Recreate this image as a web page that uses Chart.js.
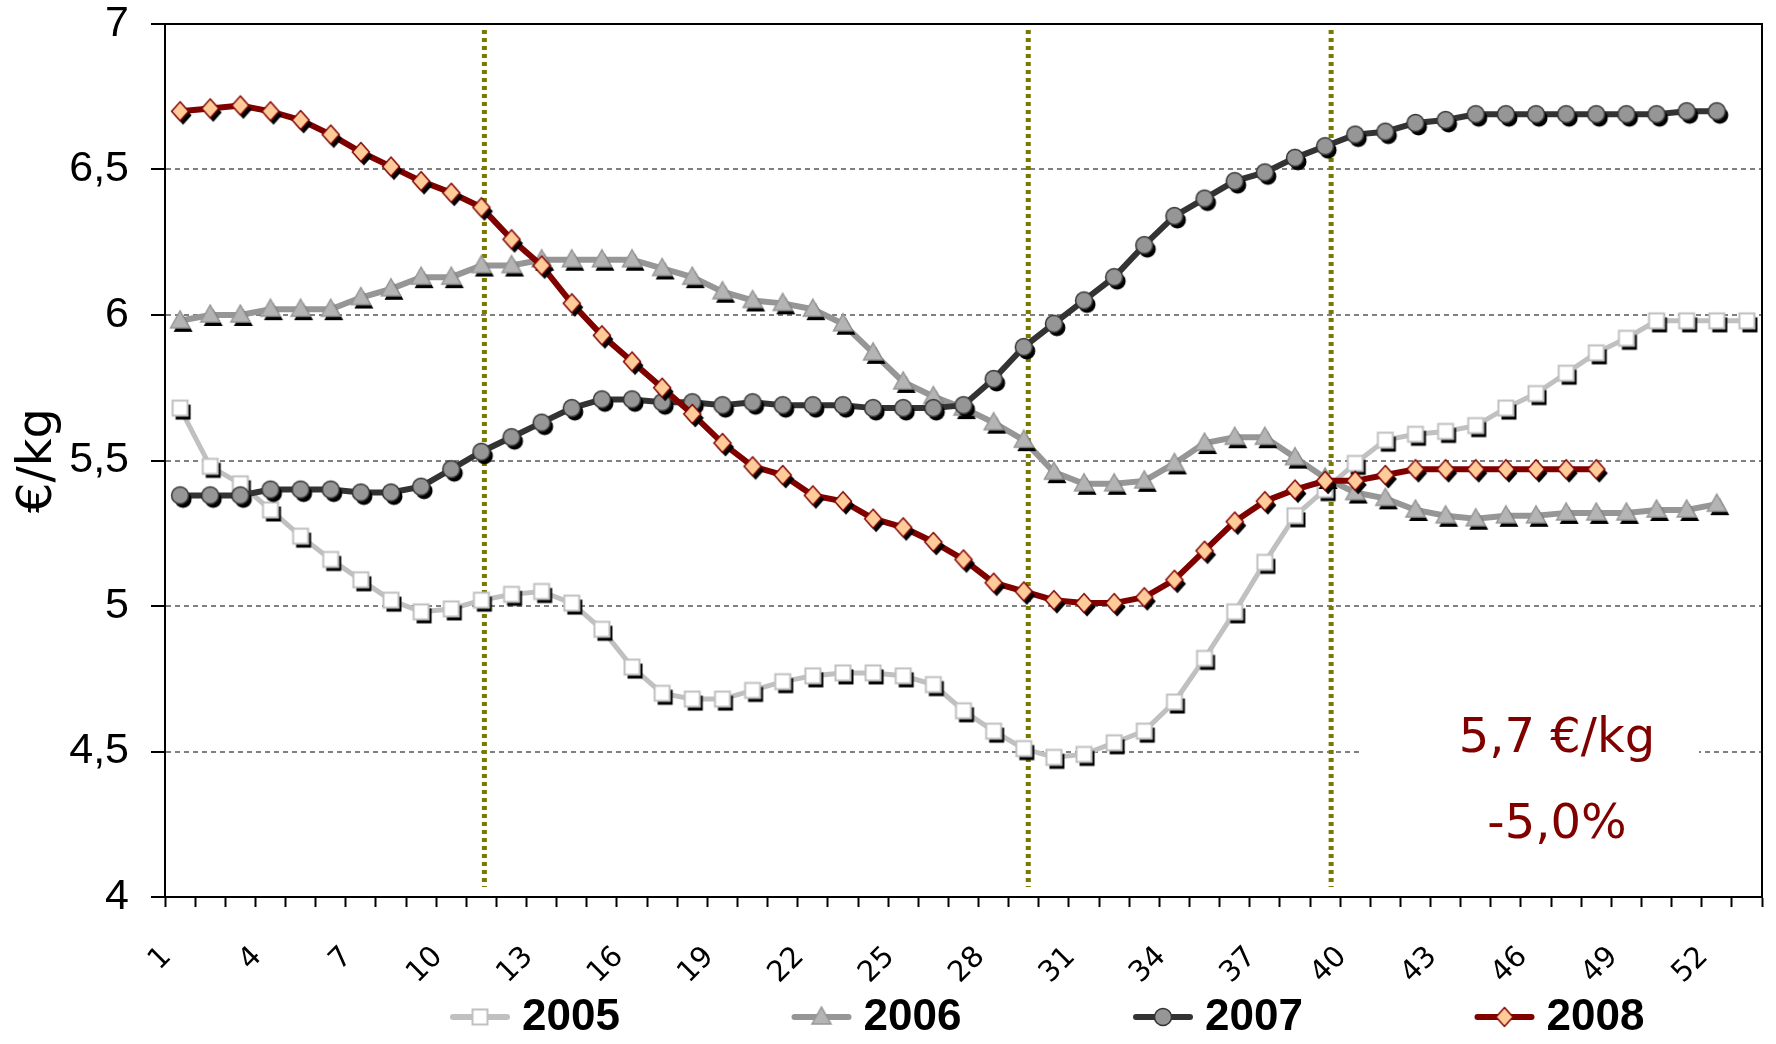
<!DOCTYPE html>
<html>
<head>
<meta charset="utf-8">
<script src="https://cdn.jsdelivr.net/npm/chart.js@4.4.1/dist/chart.umd.min.js"></script>
<style>
  html, body { margin: 0; padding: 0; background: #fff; }
  #wrap { width: 1776px; height: 1044px; position: relative; }
</style>
</head>
<body>
<div id="wrap"><canvas id="chart"></canvas></div>
<script>
// semanas do ano (eixo x)
const weeks = [1, 2, 3, 4, 5, 6, 7, 8, 9, 10, 11, 12, 13, 14, 15, 16, 17, 18, 19, 20,
    21, 22, 23, 24, 25, 26, 27, 28, 29, 30, 31, 32, 33, 34, 35, 36, 37, 38, 39, 40,
    41, 42, 43, 44, 45, 46, 47, 48, 49, 50, 51, 52, 53];
const tickWeeks = [1, 4, 7, 10, 13, 16, 19, 22, 25, 28, 31, 34, 37, 40, 43, 46, 49, 52];

// preços em €/kg
const price2005 = [5.68, 5.48, 5.42, 5.33, 5.24, 5.16, 5.09, 5.02, 4.98, 4.99, 5.02, 5.04, 5.05, 5.01, 4.92,
    4.79, 4.70, 4.68, 4.68, 4.71, 4.74, 4.76, 4.77, 4.77, 4.76, 4.73, 4.64, 4.57, 4.51, 4.48,
    4.49, 4.53, 4.57, 4.67, 4.82, 4.98, 5.15, 5.31, 5.40, 5.49, 5.57, 5.59, 5.60, 5.62, 5.68,
    5.73, 5.80, 5.87, 5.92, 5.98, 5.98, 5.98, 5.98];
const price2006 = [5.98, 6.00, 6.00, 6.02, 6.02, 6.02, 6.06, 6.09, 6.13, 6.13, 6.17, 6.17, 6.19, 6.19,
    6.19, 6.19, 6.16, 6.13, 6.08, 6.05, 6.04, 6.02, 5.97, 5.87, 5.77, 5.72, 5.68, 5.63, 5.57,
    5.46, 5.42, 5.42, 5.43, 5.49, 5.56, 5.58, 5.58, 5.51, 5.44, 5.39, 5.37, 5.33, 5.31, 5.30,
    5.31, 5.31, 5.32, 5.32, 5.32, 5.33, 5.33, 5.35];
const price2007 = [5.38, 5.38, 5.38, 5.40, 5.40, 5.40, 5.39, 5.39, 5.41, 5.47, 5.53, 5.58, 5.63,
    5.68, 5.71, 5.71, 5.70, 5.70, 5.69, 5.70, 5.69, 5.69, 5.69, 5.68, 5.68, 5.68, 5.69,
    5.78, 5.89, 5.97, 6.05, 6.13, 6.24, 6.34,
    6.40, 6.46, 6.49, 6.54, 6.58, 6.62, 6.63, 6.66, 6.67, 6.69, 6.69, 6.69, 6.69, 6.69, 6.69, 6.69, 6.70, 6.70];
const price2008 = [6.70, 6.71, 6.72, 6.70, 6.67, 6.62, 6.56, 6.51, 6.46, 6.42, 6.37, 6.26, 6.17, 6.04,
    5.93, 5.84, 5.75, 5.66, 5.56, 5.48, 5.45, 5.38, 5.36, 5.30, 5.27, 5.22, 5.16, 5.08, 5.05,
    5.02, 5.01, 5.01, 5.03, 5.09, 5.19, 5.29, 5.36, 5.40, 5.43, 5.43, 5.45, 5.47, 5.47, 5.47,
    5.47, 5.47, 5.47, 5.47];

// linhas verticais pontilhadas (semana)
const markerWeeks = [11.1, 29.15, 39.2];
const noteLines = ['5,7 €/kg', '-5,0%'];

const comic = '"Comic Sans MS", "DejaVu Sans", sans-serif';
const arial = '"Liberation Sans", Arial, sans-serif';

// desenha o marcador (com sombra preta) num canvas pequeno
function makeMarker(shape, fill, stroke, shadow) {
    const c = document.createElement('canvas');
    c.width = 34; c.height = 34;
    const ctx = c.getContext('2d');
    function path(x, y) {
        ctx.beginPath();
        if (shape === 'square') {
            ctx.rect(x - 7.5, y - 7.5, 15, 15);
        } else if (shape === 'triangle') {
            ctx.moveTo(x, y - 10);
            ctx.lineTo(x + 9.5, y + 7);
            ctx.lineTo(x - 9.5, y + 7);
            ctx.closePath();
        } else if (shape === 'circle') {
            ctx.arc(x, y, 8.5, 0, Math.PI * 2);
        } else {
            ctx.moveTo(x, y - 9.5);
            ctx.lineTo(x + 8.5, y);
            ctx.lineTo(x, y + 9.5);
            ctx.lineTo(x - 8.5, y);
            ctx.closePath();
        }
    }
    if (shadow) {
        path(20, 21);
        ctx.fillStyle = '#000';
        ctx.fill();
    }
    path(17, 17);
    ctx.fillStyle = fill;
    ctx.fill();
    ctx.lineWidth = shape === 'square' ? 2 : 1.5;
    ctx.strokeStyle = stroke;
    ctx.stroke();
    return c;
}

const styles = [
    { label: '2005', data: price2005, color: '#c0c0c0', width: 5, shape: 'square', fill: '#ffffff', stroke: '#c0c0c0' },
    { label: '2006', data: price2006, color: '#969696', width: 6, shape: 'triangle', fill: '#b4b4b4', stroke: '#969696' },
    { label: '2007', data: price2007, color: '#333333', width: 6, shape: 'circle', fill: '#969696', stroke: '#333333' },
    { label: '2008', data: price2008, color: '#800000', width: 6, shape: 'diamond', fill: '#ffcc99', stroke: '#800000' }
];
const legendMarkers = styles.map(s => makeMarker(s.shape, s.fill, s.stroke, false));

const datasets = styles.map((s, i) => ({
    label: s.label,
    data: s.data,
    borderColor: s.color,
    borderWidth: s.width,
    backgroundColor: s.fill,
    pointStyle: makeMarker(s.shape, s.fill, s.stroke, true),
    pointRadius: 8,
    tension: 0,
    fill: false,
    order: 4 - i
}));

// linhas verticais, moldura e nota
const extrasPlugin = {
    id: 'extras',
    beforeDatasetsDraw(chart) {
        const { ctx, chartArea, scales } = chart;
        ctx.save();
        ctx.strokeStyle = '#7a7a00';
        ctx.lineWidth = 5;
        ctx.setLineDash([4, 4]);
        markerWeeks.forEach(w => {
            const x = scales.x.getPixelForValue(w - 1);
            ctx.beginPath();
            ctx.moveTo(x, chartArea.top + 6);
            ctx.lineTo(x, chartArea.bottom - 10);
            ctx.stroke();
        });
        ctx.restore();
    },
    afterDraw(chart) {
        const { ctx, chartArea } = chart;
        ctx.save();
        // moldura superior e direita
        ctx.strokeStyle = '#000';
        ctx.lineWidth = 2;
        ctx.beginPath();
        ctx.moveTo(chartArea.left, chartArea.top);
        ctx.lineTo(chartArea.right, chartArea.top);
        ctx.lineTo(chartArea.right, chartArea.bottom);
        ctx.stroke();

        // caixa da nota
        ctx.fillStyle = '#fff';
        ctx.fillRect(1359, 700, 340, 160);
        ctx.fillStyle = '#800000';
        ctx.font = '48px ' + comic;
        ctx.textAlign = 'center';
        ctx.textBaseline = 'middle';
        ctx.fillText(noteLines[0], 1557, 740);
        ctx.fillText(noteLines[1], 1557, 826);

        // legenda
        ctx.font = 'bold 44px ' + arial;
        ctx.textAlign = 'left';
        ctx.fillStyle = '#000';
        const ly = 1017;
        chart.data.datasets.forEach((ds, i) => {
            const x0 = 450 + i * 341.5;
            ctx.strokeStyle = ds.borderColor;
            ctx.lineWidth = 6;
            ctx.lineCap = 'round';
            ctx.beginPath();
            ctx.moveTo(x0 + 3, ly);
            ctx.lineTo(x0 + 57, ly);
            ctx.stroke();
            const m = legendMarkers[i];
            ctx.drawImage(m, x0 + 30 - m.width / 2, ly - m.height / 2);
            ctx.fillText(ds.label, x0 + 72, ly + 1);
        });
        ctx.restore();
    }
};

new Chart(document.getElementById('chart').getContext('2d'), {
    type: 'line',
    data: { labels: weeks, datasets: datasets },
    options: {
        responsive: true,
        maintainAspectRatio: false,
        animation: false,
        events: [],
        layout: { padding: { top: 24, right: 0, left: 0, bottom: 0 } },
        plugins: {
            legend: { display: false },
            tooltip: { enabled: false }
        },
        scales: {
            x: {
                offset: true,
                grid: {
                    offset: true,
                    drawOnChartArea: false,
                    drawTicks: true,
                    tickLength: 10,
                    tickColor: '#000',
                    tickWidth: 2
                },
                border: { display: true, color: '#000', width: 2 },
                ticks: {
                    autoSkip: false,
                    maxRotation: 45,
                    minRotation: 45,
                    padding: 20,
                    color: '#000',
                    font: { family: comic, size: 29 },
                    callback: function (v, i) {
                        const w = weeks[i];
                        return tickWeeks.includes(w) ? w + '  ' : '';
                    }
                },
                afterFit: function (scale) {
                    scale.height = 147;
                    scale.paddingLeft = 0;
                    scale.paddingRight = 0;
                }
            },
            y: {
                min: 4,
                max: 7,
                grid: {
                    color: ctx => (ctx.tick && ctx.tick.value === 4) ? 'rgba(0,0,0,0)' : '#808080',
                    lineWidth: 2,
                    tickColor: '#000',
                    tickLength: 14,
                    tickWidth: 2
                },
                border: { display: true, color: '#000', width: 2, dash: [5, 4] },
                ticks: {
                    stepSize: 0.5,
                    padding: 22,
                    color: '#000',
                    font: { family: arial, size: 43 },
                    callback: v => String(v).replace('.', ',')
                },
                title: {
                    display: true,
                    text: '€/kg',
                    color: '#000',
                    font: { family: comic, size: 48 },
                    padding: { top: 10, bottom: 0 }
                },
                afterFit: function (scale) {
                    scale.width = 165;
                    scale.paddingTop = 0;
                    scale.paddingBottom = 0;
                }
            }
        }
    },
    plugins: [extrasPlugin]
});
</script>
</body>
</html>
